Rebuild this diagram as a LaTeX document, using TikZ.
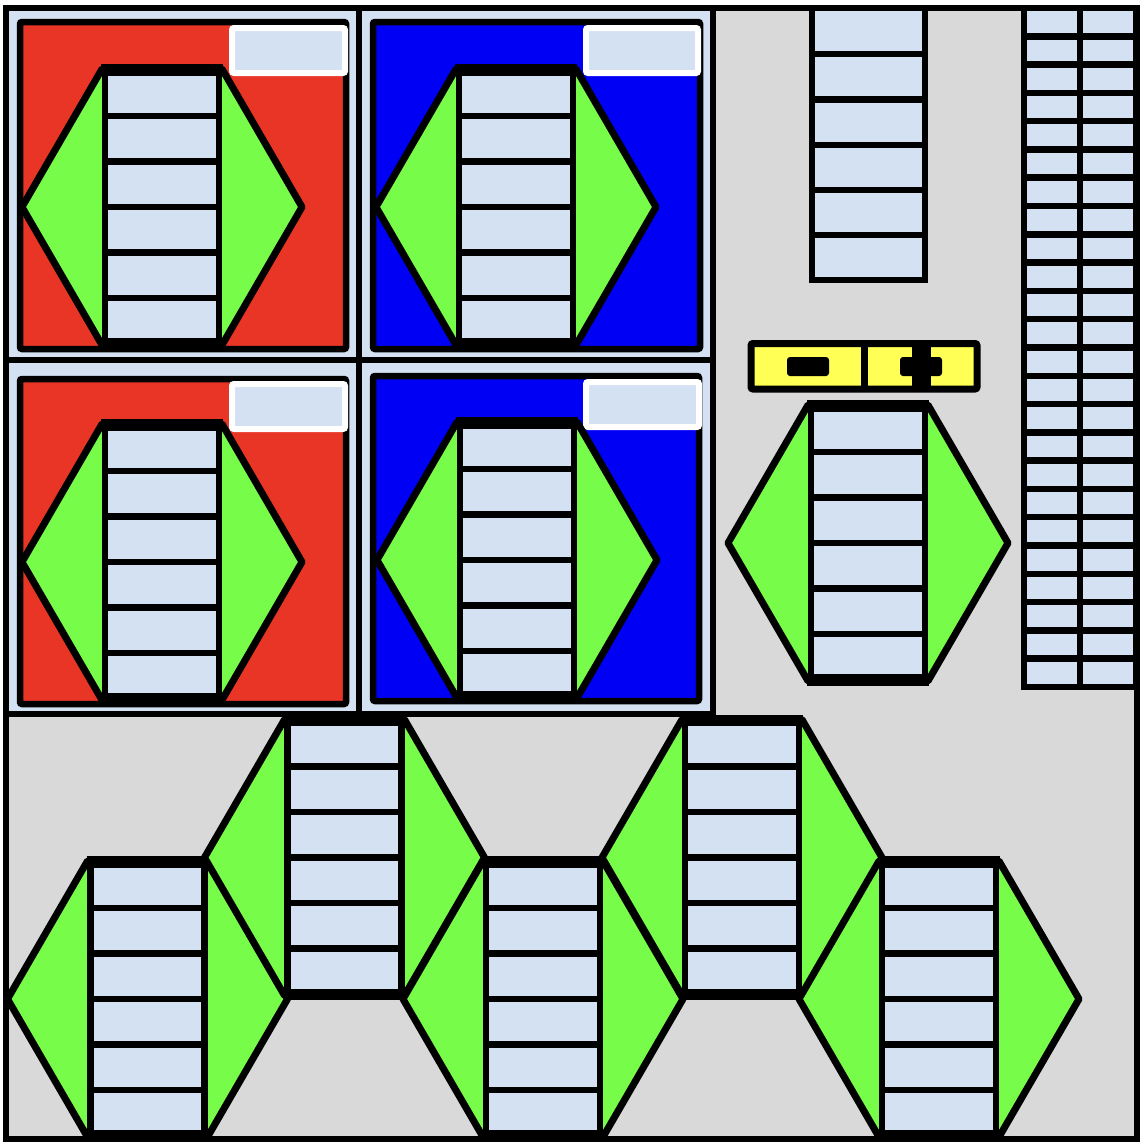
\documentclass[tikz,border=0pt]{standalone}
\definecolor{bggray}{RGB}{217,217,217}
\definecolor{cellblue}{RGB}{212,225,242}
\definecolor{hexgreen}{RGB}{119,252,73}
\definecolor{boxred}{RGB}{233,53,38}
\definecolor{boxblue}{RGB}{0,0,245}
\definecolor{batyellow}{RGB}{255,255,85}
\tikzset{
  hexmod/.pic={
    \filldraw[fill=hexgreen,line width=7,line join=round]
      (-140,0) -- (-60,-138) -- (60,-138) -- (140,0) -- (60,138) -- (-60,138) -- cycle;
    \filldraw[fill=cellblue,line width=6.5] (-57,-137) rectangle (57,137);
    \foreach \yy in {-91,-45.5,0,45.5,91} \draw[line width=6.5] (-57,\yy) -- (57,\yy);
    \draw[line width=11.5] (-61,-137) -- (61,-137);
    \draw[line width=11.5] (-61,137) -- (61,137);
  },
  cellbox/.style={fill=cellblue,draw=black,line width=6},
  colbox/.style={draw=black,line width=6.5,rounded corners=2},
  labelbox/.style={fill=cellblue,draw=white,line width=6,rounded corners=2},
  ladline/.style={line width=6.5}
}
\begin{document}
\begin{tikzpicture}[x=1pt,y=-1pt]
\useasboundingbox (0,0) rectangle (1146,1146);
% background
\fill[bggray] (6,8) rectangle (1137,1139);
% top-left cells
\draw[cellbox] (6,8) rectangle (359,360);
\draw[cellbox] (359,8) rectangle (713,360);
\draw[cellbox] (6,360) rectangle (359,714);
\draw[cellbox] (359,360) rectangle (713,714);
% coloured boxes
\filldraw[colbox,fill=boxred] (20,22) rectangle (346,349);
\filldraw[colbox,fill=boxblue] (373,22) rectangle (700,349);
\filldraw[colbox,fill=boxred] (20,379) rectangle (346,704);
\filldraw[colbox,fill=boxblue] (373,376) rectangle (699,701);
% labels
\draw[labelbox] (232,28) rectangle (345,73);
\draw[labelbox] (586,28) rectangle (698,73);
\draw[labelbox] (232,384) rectangle (345,429);
\draw[labelbox] (586,382) rectangle (699,427);
% hexagon modules
\pic at (162,207) {hexmod};
\pic at (516,207) {hexmod};
\pic at (162,562) {hexmod};
\pic at (517,560) {hexmod};
\pic at (868,543) {hexmod};
\pic at (147.5,999) {hexmod};
\pic at (344.5,857.5) {hexmod};
\pic at (543,999) {hexmod};
\pic at (742,857.5) {hexmod};
\pic at (939,999) {hexmod};
% top single ladder
\filldraw[fill=cellblue,ladline] (812,8) rectangle (925,280);
\foreach \yy in {54,99.5,145,190,235} \draw[ladline] (812,\yy) -- (925,\yy);
% right double ladder
\filldraw[fill=cellblue,ladline] (1024,8) rectangle (1136,687);
\draw[ladline] (1080,8) -- (1080,687);
\foreach \k in {1,...,23} \draw[ladline] (1024,8+\k*28.29) -- (1136,8+\k*28.29);
% battery
\filldraw[fill=batyellow,draw=black,line width=7,rounded corners=2] (751,343.5) rectangle (977,389);
\draw[line width=7] (864.5,343.5) -- (864.5,389);
\fill[black,rounded corners=3] (787,357) rectangle (829,376);
\fill[black,rounded corners=3] (900,357) rectangle (942,376);
\fill[black] (912,343) rectangle (931,389);
% outer border
\draw[line width=6] (6,8) rectangle (1137,1139);
\end{tikzpicture}
\end{document}
